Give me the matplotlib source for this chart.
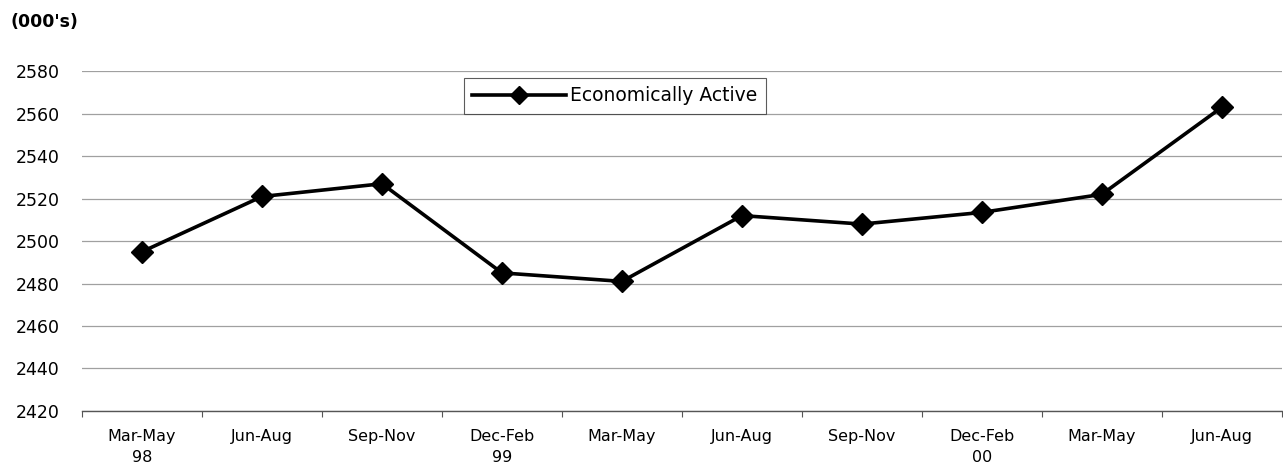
import matplotlib
matplotlib.use("Agg")
import matplotlib.pyplot as plt
import numpy as np

categories = ["Mar-May\n98", "Jun-Aug", "Sep-Nov", "Dec-Feb\n99", "Mar-May",
              "Jun-Aug", "Sep-Nov", "Dec-Feb\n00", "Mar-May", "Jun-Aug"]
econ_active = [2495, 2521, 2527, 2485, 2481, 2512, 2508, 2513.5, 2522, 2563]
y_ticks = [2420, 2440, 2460, 2480, 2500, 2520, 2540, 2560, 2580]

plt.rcParams['font.family'] = ['DejaVu Sans']

fig = plt.figure(figsize=(12.83, 4.75), dpi=100)
ax = fig.add_axes([0.064, 0.135, 0.935, 0.715])

x = np.arange(len(categories))
ax.plot(x, econ_active, color='black', lw=2.6, marker='D', markersize=11,
        markerfacecolor='black', markeredgecolor='black', label='Economically Active',
        zorder=3)

ax.set_xlim(-0.5, len(categories) - 0.5)
ax.set_ylim(y_ticks[0], y_ticks[-1])
ax.set_yticks(y_ticks)
ax.set_yticklabels([str(v) for v in y_ticks], fontsize=12.5)
ax.yaxis.grid(True, color='#a0a0a0', lw=0.9)
ax.set_axisbelow(True)
ax.tick_params(axis='y', length=0, pad=16)

ax.set_xticks(x)
ax.set_xticklabels(categories, fontsize=11.5, linespacing=1.5)
ax.set_xticks(np.arange(-0.5, len(categories)), minor=True)
ax.tick_params(axis='x', which='major', length=0, pad=13)
ax.tick_params(axis='x', which='minor', length=4, color='#555555', width=0.8)

for s in ['top', 'right', 'left']:
    ax.spines[s].set_visible(False)
ax.spines['bottom'].set_color('#555555')
ax.spines['bottom'].set_linewidth(1.0)

leg = ax.legend(loc='upper left', bbox_to_anchor=(0.318, 0.98), fontsize=13.5,
                frameon=True, fancybox=False, handlelength=5.0, borderpad=0.45,
                handletextpad=0.25, borderaxespad=0)
leg.get_frame().set_edgecolor('#333333')
leg.get_frame().set_linewidth(0.8)
for h in leg.legend_handles:
    h.set_markersize(9)

fig.text(0.008, 0.953, "(000's)", fontsize=12.5, fontweight='bold', ha='left', va='center')

fig.savefig('out.png', dpi=100)
